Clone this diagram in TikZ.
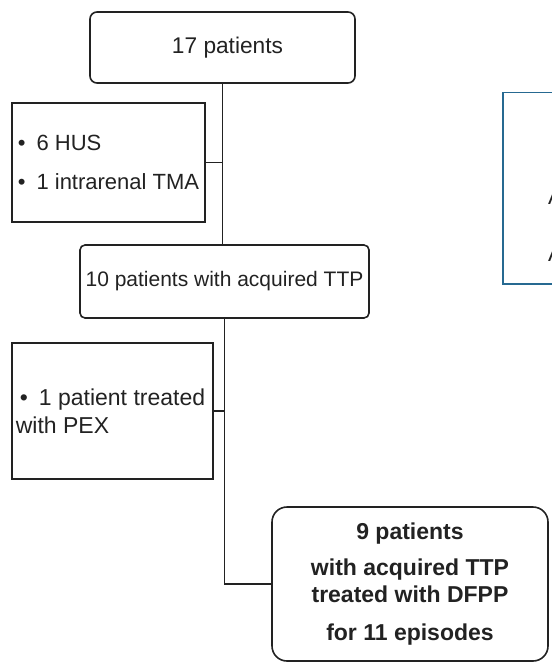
\documentclass[tikz,border=0pt]{standalone}
\usepackage{fontspec}
\setmainfont{Liberation Sans}
\definecolor{ink}{RGB}{34,34,34}
\definecolor{bluebox}{RGB}{38,105,145}
\begin{document}
\begin{tikzpicture}[x=1pt,y=-1pt,
  box/.style={draw=ink, line width=1.6pt, inner sep=0pt, text=ink, font=\fontsize{22.7}{26}\selectfont},
  roundbox/.style={box, rounded corners=7pt},
  sqbox/.style={box, line width=2pt, align=left},
  boldbox/.style={box, rounded corners=15pt, align=center, font=\fontsize{23}{27}\selectfont\bfseries},
  link/.style={draw=ink, line width=1.8pt},
  sidebox/.style={draw=bluebox, line width=1.5pt, inner sep=0pt, anchor=north west},
  cut/.style={text=ink, inner sep=0pt, anchor=base west, font=\fontsize{22}{26}\selectfont}]
\useasboundingbox (0,0) rectangle (551,663);
\node[roundbox, minimum width=265pt, minimum height=71pt] (top) at (222.5,47.5) {\hspace*{10pt}17 patients};
\node[sqbox, minimum width=193pt, minimum height=119pt, font=\fontsize{22}{26}\selectfont] (hus) at (108.5,162.5)
  {\textbullet\hspace{11pt}6 HUS\\[13pt]\textbullet\hspace{11pt}1 intrarenal TMA};
\node[roundbox, rounded corners=5pt, minimum width=289pt, minimum height=73pt,
  font=\fontsize{21}{25}\selectfont] (ttp) at (224.5,281.5) {10 patients with acquired TTP};
\node[sqbox, minimum width=201pt, minimum height=136pt, font=\fontsize{23}{28}\selectfont] (pex) at (112.5,411)
  {\textbullet\hspace{11pt}1 patient treated\\\hspace*{-4pt}with PEX};
\node[boldbox, minimum width=276pt, minimum height=154pt] (dfpp) at (410,584)
  {9 patients\\[9pt]with acquired TTP\\treated with DFPP\\[11pt]for 11 episodes};
\draw[link] (top.south) -- (top.south |- ttp.north);
\draw[link] (hus.east) -- (hus.east -| top.south);
\draw[link] (ttp.south) |- (dfpp.west);
\draw[link] (pex.east) -- (pex.east -| ttp.south);
\node[sidebox, minimum width=80pt, minimum height=191pt] (side) at (502,92) {};
\node[cut] (sa) at (548,204) {A};
\node[cut] (sb) at (548,261) {A};
\end{tikzpicture}
\end{document}
